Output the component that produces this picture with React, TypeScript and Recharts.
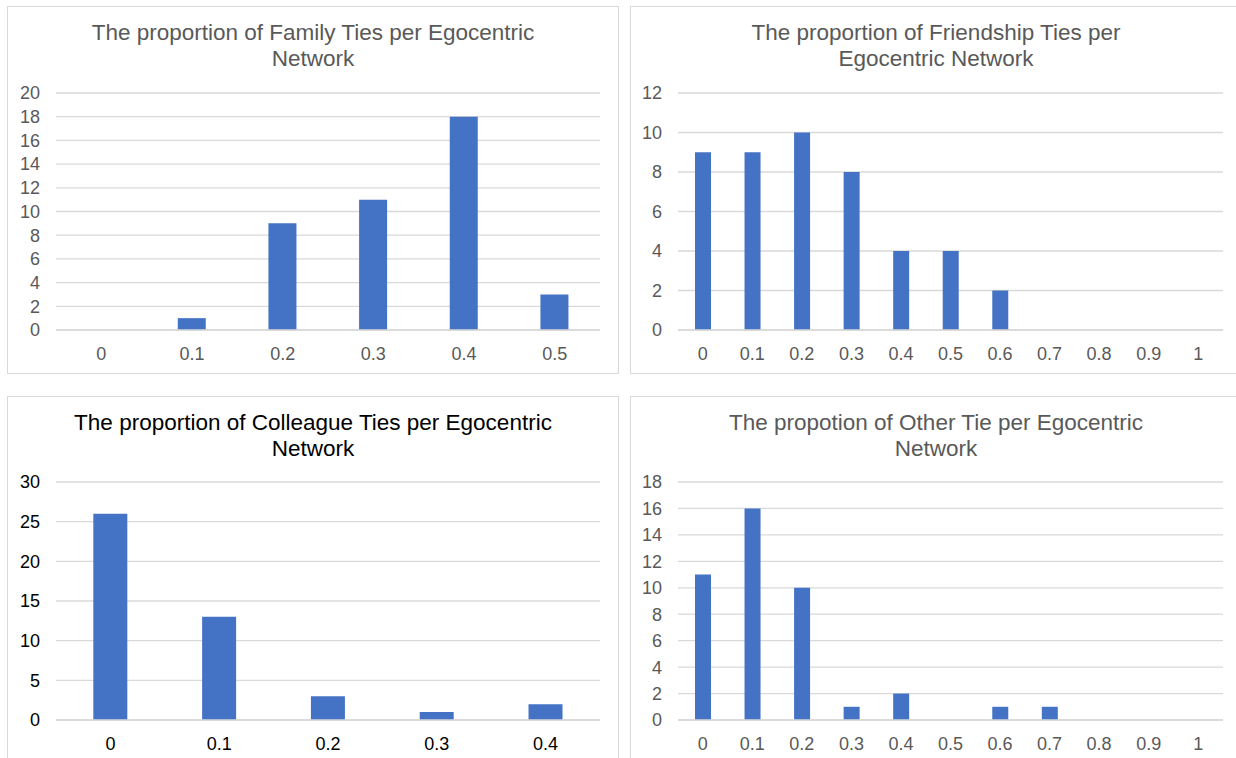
import React from 'react';
import { BarChart, Bar, XAxis, YAxis, CartesianGrid } from 'recharts';

// Bin labels (share of ties of one kind in an ego network)
const familyBins = ['0', '0.1', '0.2', '0.3', '0.4', '0.5'];
const friendshipBins = ['0', '0.1', '0.2', '0.3', '0.4', '0.5', '0.6', '0.7', '0.8', '0.9', '1'];
const colleagueBins = ['0', '0.1', '0.2', '0.3', '0.4'];
const otherBins = ['0', '0.1', '0.2', '0.3', '0.4', '0.5', '0.6', '0.7', '0.8', '0.9', '1'];

// Number of networks in each bin
const familyCounts = [0, 1, 9, 11, 18, 3];
const friendshipCounts = [9, 9, 10, 8, 4, 4, 2, 0, 0, 0, 0];
const colleagueCounts = [26, 13, 3, 1, 2];
const otherCounts = [11, 16, 10, 1, 2, 0, 1, 1, 0, 0, 0];

// Value-axis ticks
const familyTicks = [0, 2, 4, 6, 8, 10, 12, 14, 16, 18, 20];
const friendshipTicks = [0, 2, 4, 6, 8, 10, 12];
const colleagueTicks = [0, 5, 10, 15, 20, 25, 30];
const otherTicks = [0, 2, 4, 6, 8, 10, 12, 14, 16, 18];

const FONT = '"Liberation Sans", Arial, sans-serif';
const BAR = '#4472C4';
const GRID = '#d9d9d9';
const PANEL_W = 612;
const PANEL_H = 368;

type PanelProps = {
  left: number;
  top: number;
  title: string[];
  titleColor: string;
  tickColor: string;
  bins: string[];
  counts: number[];
  ticks: number[];
  plotTop: number;
  axisWidth: number;
};

function Panel({ left, top, title, titleColor, tickColor, bins, counts, ticks, plotTop, axisWidth }: PanelProps) {
  const rows = bins.map((label, i) => ({ label, count: counts[i] }));
  const max = ticks[ticks.length - 1];
  return (
    <>
      <div
        style={{
          position: 'absolute',
          left,
          top,
          width: PANEL_W,
          height: PANEL_H,
          boxSizing: 'border-box',
          border: `1px solid ${GRID}`,
          background: '#fff',
        }}
      />
      <div style={{ position: 'absolute', left, top }}>
        <BarChart
          width={PANEL_W}
          height={PANEL_H}
          data={rows}
          margin={{ top: plotTop, right: 19, bottom: 14, left: 0 }}
          barCategoryGap="34.3%"
        >
          <CartesianGrid vertical={false} stroke={GRID} strokeWidth={1.3} />
          <XAxis
            dataKey="label"
            interval={0}
            height={30}
            tickLine={false}
            axisLine={{ stroke: GRID, strokeWidth: 1.3 }}
            tickMargin={11}
            tick={{ fill: tickColor, fontSize: 18, fontFamily: FONT }}
          />
          <YAxis
            domain={[0, max]}
            ticks={ticks}
            interval={0}
            width={axisWidth}
            axisLine={false}
            tickLine={false}
            tickMargin={10}
            tick={{ fill: tickColor, fontSize: 18, fontFamily: FONT }}
          />
          <Bar dataKey="count" fill={BAR} isAnimationActive={false} />
        </BarChart>
      </div>
      <div
        style={{
          position: 'absolute',
          left,
          top: top + 14,
          width: PANEL_W,
          textAlign: 'center',
          fontFamily: FONT,
          fontSize: 22.5,
          lineHeight: '26px',
          color: titleColor,
          whiteSpace: 'nowrap',
        }}
      >
        {title.map((t) => (
          <div key={t}>{t}</div>
        ))}
      </div>
    </>
  );
}

export default function App() {
  return (
    <div
      style={{
        position: 'absolute',
        left: 0,
        top: 0,
        width: 1236,
        height: 758,
        overflow: 'hidden',
        background: '#fff',
      }}
    >
      <Panel
        left={7}
        top={6}
        title={['The proportion of Family Ties per Egocentric', 'Network']}
        titleColor="#595959"
        tickColor="#595959"
        bins={familyBins}
        counts={familyCounts}
        ticks={familyTicks}
        plotTop={87}
        axisWidth={49}
      />
      <Panel
        left={630}
        top={6}
        title={['The proportion of Friendship Ties per', 'Egocentric Network']}
        titleColor="#595959"
        tickColor="#595959"
        bins={friendshipBins}
        counts={friendshipCounts}
        ticks={friendshipTicks}
        plotTop={87}
        axisWidth={48}
      />
      <Panel
        left={7}
        top={396}
        title={['The proportion of Colleague Ties per Egocentric', 'Network']}
        titleColor="#000000"
        tickColor="#000000"
        bins={colleagueBins}
        counts={colleagueCounts}
        ticks={colleagueTicks}
        plotTop={86}
        axisWidth={49}
      />
      <Panel
        left={630}
        top={396}
        title={['The propotion of Other Tie per Egocentric', 'Network']}
        titleColor="#595959"
        tickColor="#595959"
        bins={otherBins}
        counts={otherCounts}
        ticks={otherTicks}
        plotTop={86}
        axisWidth={48}
      />
    </div>
  );
}
